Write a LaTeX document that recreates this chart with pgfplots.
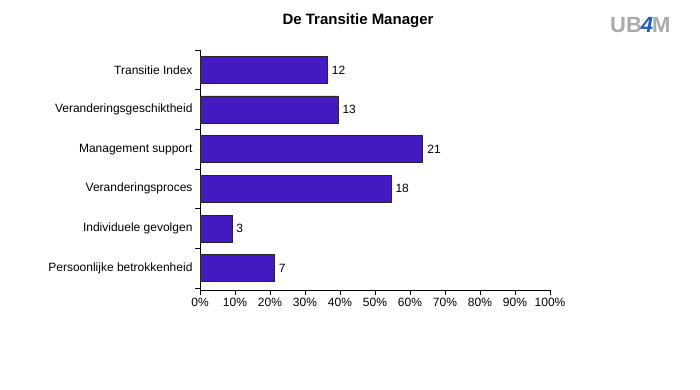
\documentclass[border=0pt]{standalone}
\usepackage{pgfplots}
\pgfplotsset{compat=1.18}
\usepackage{pgfplotstable}
\usepackage{fontspec}
\setmainfont{Liberation Sans}
\definecolor{barblue}{RGB}{68,25,194}
\definecolor{logogrey}{RGB}{170,170,175}
\definecolor{logoblue}{RGB}{30,90,200}
\pgfplotstableread{
y x n
0 36.36 12
1 39.39 13
2 63.64 21
3 54.55 18
4 9.09 3
5 21.21 7
}\datatable
\begin{document}
\begin{tikzpicture}[x=1pt,y=1pt]
\path[use as bounding box,fill=white] (0,0) rectangle (700,390);
\node[font=\fontsize{15}{17}\selectfont\bfseries] at (358,369) {De Transitie Manager};
\node[font=\fontsize{22}{24}\selectfont\bfseries,anchor=west,inner sep=0pt] at (610,365) {\textcolor{logogrey}{UB}\kern-1pt\textcolor{logoblue}{\itshape 4}\kern-1pt\textcolor{logogrey}{M}};
\begin{axis}[
  at={(200pt,100pt)}, anchor=south west,
  scale only axis, width=350pt, height=240pt,
  xbar, bar width=27pt,
  xmin=0, xmax=100, ymin=-0.5, ymax=5.55,
  y dir=reverse,
  axis lines*=left,
  axis line style={black, line width=0.8pt},
  xtick={0,10,...,100},
  xticklabels={0\%,10\%,20\%,30\%,40\%,50\%,60\%,70\%,80\%,90\%,100\%},
  ytick={0,...,5},
  yticklabels={Transitie Index,Veranderingsgeschiktheid,Management support,Veranderingsproces,Individuele gevolgen,Persoonlijke betrokkenheid},
  minor ytick={-0.5,0.5,...,5.5},
  major y tick style={draw=none},
  minor tick length=5pt,
  major tick length=5pt,
  tick align=outside,
  tick style={black, line width=0.8pt},
  xtick pos=bottom, ytick pos=left,
  tick label style={font=\fontsize{12}{14}\selectfont},
  y tick label style={xshift=1pt},
  nodes near coords,
  point meta=explicit symbolic,
  nodes near coords style={font=\fontsize{12}{14}\selectfont, anchor=west, xshift=1pt, black},
  clip=false,
]
\addplot[fill=barblue, draw=black!85, line width=0.6pt] table[x=x, y=y, meta=n] {\datatable};
\end{axis}
\end{tikzpicture}
\end{document}
